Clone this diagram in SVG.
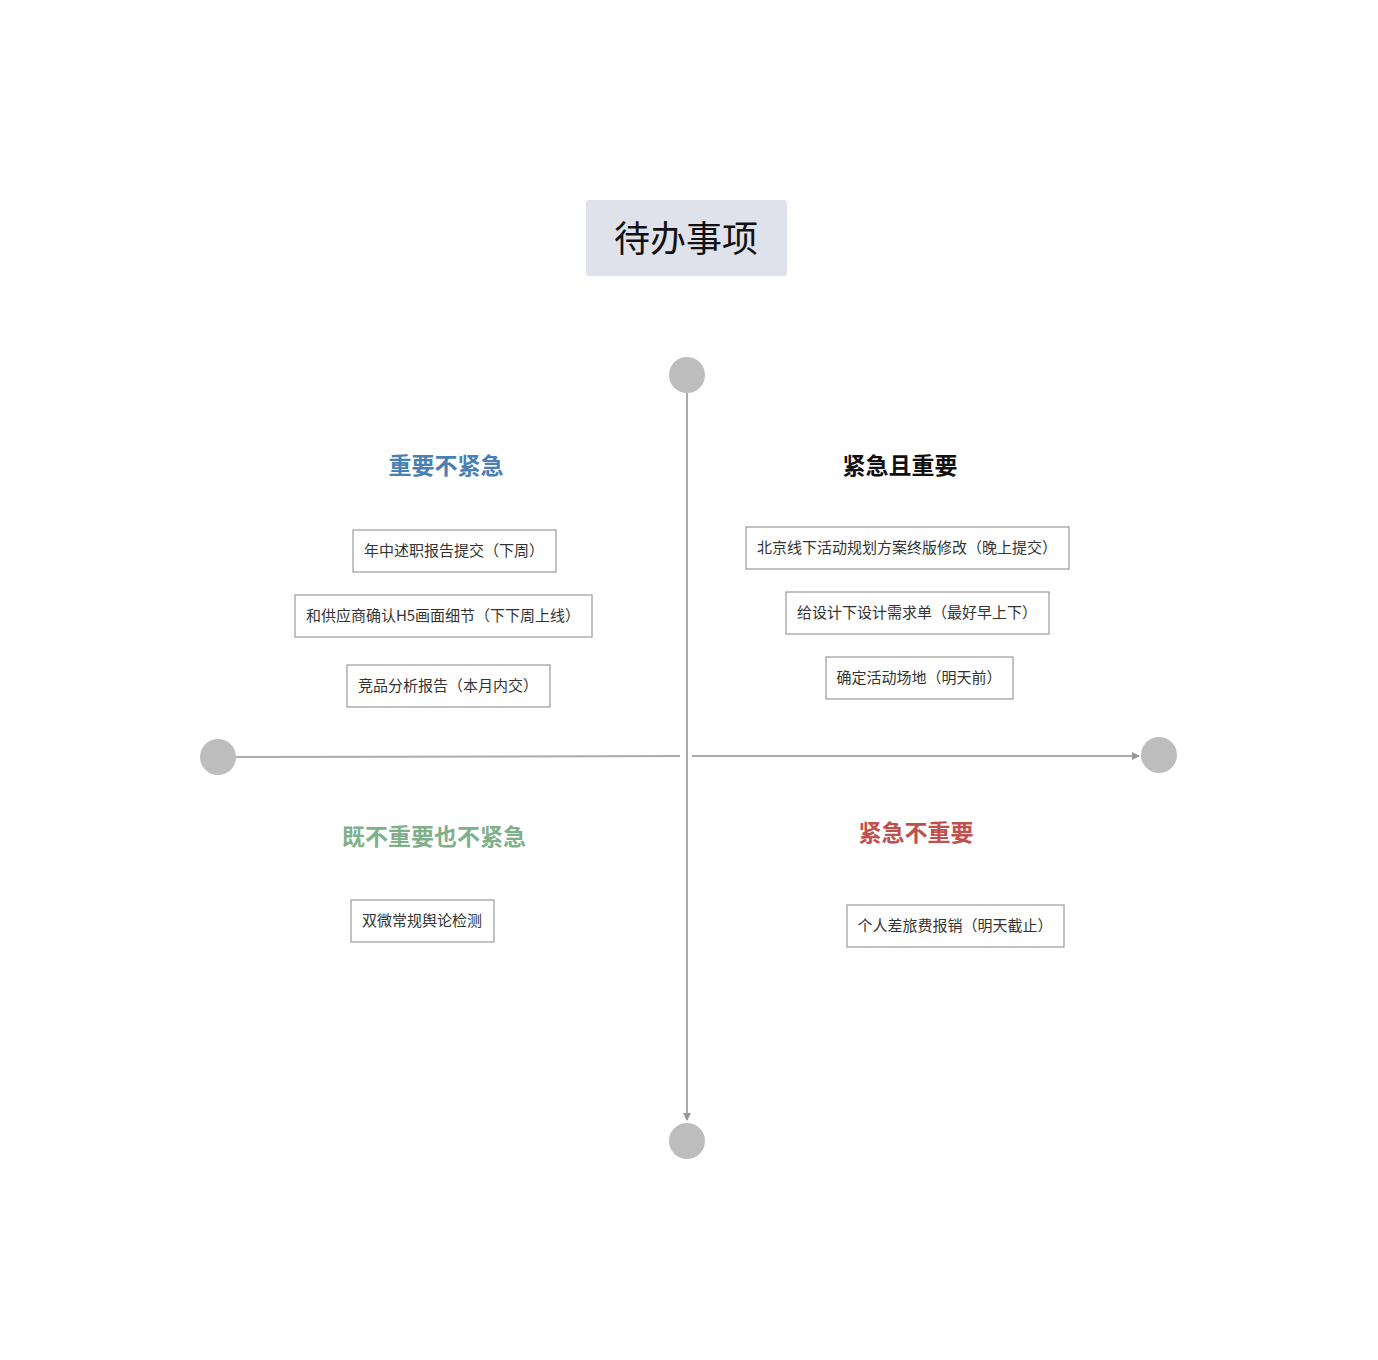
<svg xmlns="http://www.w3.org/2000/svg" width="1378" height="1360" viewBox="0 0 1378 1360">
<style>
.b{fill:#fff;stroke:#9a9a9a;stroke-width:1.2}
.t{font-family:"Noto Sans CJK SC",sans-serif;font-size:15px;fill:#333;text-anchor:middle}
.h{font-family:"Noto Sans CJK SC",sans-serif;font-size:23px;font-weight:bold;text-anchor:middle}
.d{fill:#bdbdbd}
.ax{stroke:#ababab;stroke-width:2;fill:none}
</style>
<defs><marker id="a" markerWidth="8" markerHeight="8" refX="7" refY="4" orient="auto" markerUnits="userSpaceOnUse"><path d="M0,0L8,4L0,8z" fill="#999"/></marker></defs>
<rect width="1378" height="1360" fill="#fff"/>
<g id="title"><rect x="586" y="200" width="201" height="76" rx="3" fill="#dfe2eb"/><text x="686" y="252" font-family="Noto Sans CJK SC,sans-serif" font-size="36" text-anchor="middle" fill="#111">待办事项</text></g>
<g id="connectors">
<line class="ax" x1="687" y1="393" x2="687" y2="1120" marker-end="url(#a)"/>
<line class="ax" x1="236" y1="757" x2="680" y2="756"/>
<line class="ax" x1="692" y1="756" x2="1139" y2="756" marker-end="url(#a)"/>
</g>
<g id="dots"><circle class="d" cx="687" cy="375" r="18"/><circle class="d" cx="687" cy="1141" r="18"/><circle class="d" cx="218" cy="757" r="18"/><circle class="d" cx="1159" cy="755" r="18"/></g>
<g id="q1"><text class="h" x="446" y="474" fill="#4a7fb5">重要不紧急</text></g>
<g id="q2"><text class="h" x="900" y="474" fill="#111">紧急且重要</text></g>
<g id="q3"><text class="h" x="434" y="845" fill="#7fb08a">既不重要也不紧急</text></g>
<g id="q4"><text class="h" x="916" y="841" fill="#c0504d">紧急不重要</text></g>
<g id="n1"><rect class="b" x="353" y="530" width="203" height="42"/><text class="t" x="454" y="556">年中述职报告提交（下周）</text></g>
<g id="n2"><rect class="b" x="295" y="595" width="297" height="42"/><text class="t" x="443" y="621">和供应商确认H5画面细节（下下周上线）</text></g>
<g id="n3"><rect class="b" x="347" y="665" width="203" height="42"/><text class="t" x="448" y="691">竞品分析报告（本月内交）</text></g>
<g id="n4"><rect class="b" x="746" y="527" width="323" height="42"/><text class="t" x="907" y="553">北京线下活动规划方案终版修改（晚上提交）</text></g>
<g id="n5"><rect class="b" x="786" y="592" width="263" height="42"/><text class="t" x="917" y="618">给设计下设计需求单（最好早上下）</text></g>
<g id="n6"><rect class="b" x="826" y="657" width="187" height="42"/><text class="t" x="919" y="683">确定活动场地（明天前）</text></g>
<g id="n7"><rect class="b" x="351" y="900" width="143" height="42"/><text class="t" x="422" y="926">双微常规舆论检测</text></g>
<g id="n8"><rect class="b" x="847" y="905" width="217" height="42"/><text class="t" x="955" y="931">个人差旅费报销（明天截止）</text></g>
</svg>
